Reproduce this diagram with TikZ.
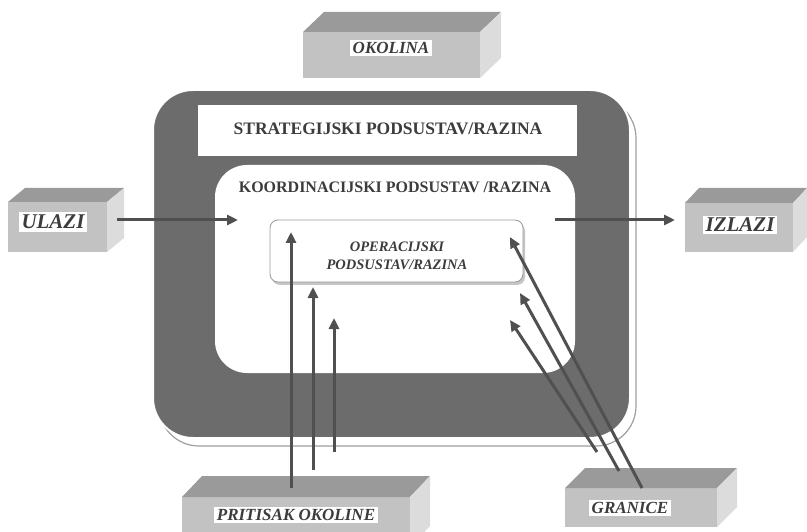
\documentclass[tikz,border=0pt]{standalone}
\usepackage{fontspec}
\setmainfont{Liberation Serif}
\usetikzlibrary{arrows.meta}
\definecolor{framec}{HTML}{6C6C6C}
\definecolor{arrowc}{HTML}{505050}
\definecolor{txtc}{HTML}{3C3C3C}
\definecolor{frontc}{HTML}{C2C2C2}
\definecolor{topc}{HTML}{9A9A9A}
\definecolor{sidec}{HTML}{DCDCDC}
\tikzset{
  frontface/.style={fill=frontc, draw=none, inner sep=0pt, outer sep=0pt},
  topface/.style={fill=topc},
  sideface/.style={fill=sidec},
  tag/.style={fill=white, text=txtc, inner sep=2.5pt, font=\bfseries\itshape},
  arr/.style={draw=arrowc, line width=3pt, -{Triangle[length=11pt,width=10pt]}},
  plain/.style={text=txtc, font=\bfseries}
}
% #1 name, #2 x, #3 y, #4 w, #5 h, #6 dx, #7 dy
\newcommand\myblock[7]{%
  \node[frontface, anchor=north west, minimum width=#4pt, minimum height=#5pt] (#1) at (#2,#3) {};
  \fill[topface] (#1.north west) -- ++(#6,-#7) -- ++(#4,0) -- (#1.north east) -- cycle;
  \fill[sideface] (#1.north east) -- ++(#6,-#7) -- ++(0,#5) -- (#1.south east) -- cycle;
}
\begin{document}
\begin{tikzpicture}[x=1pt,y=-1pt]
\useasboundingbox (0,0) rectangle (807,532);
% outer frame with shadow
\draw[gray!75, line width=1.2pt, fill=white, rounded corners=40pt] (159,98) rectangle (636,446);
\draw[white, line width=2pt, fill=framec, rounded corners=40pt] (153,90) rectangle (630,438);
\node[fill=white, anchor=north west, minimum width=379pt, minimum height=51pt, inner sep=0pt] (strat) at (198,105) {};
\node[plain, font=\bfseries\fontsize{17.5}{20}\selectfont] (strattxt) at (388,129) {STRATEGIJSKI PODSUSTAV/RAZINA};
\fill[white, rounded corners=32pt] (215,165) rectangle (575,373);
\node[plain, font=\bfseries\fontsize{16}{19}\selectfont] (koord) at (395,187) {KOORDINACIJSKI PODSUSTAV /RAZINA};
% operational box
\fill[gray!45, rounded corners=8pt] (272,223) rectangle (525,285);
\draw[gray!80, line width=0.8pt, fill=white, rounded corners=8pt] (270,220) rectangle (523,282);
\node[plain, font=\bfseries\itshape\fontsize{14.5}{18}\selectfont, align=center] (oper) at (397,256) {OPERACIJSKI\\PODSUSTAV/RAZINA};
% blocks
\myblock{okolina}{303}{32}{177}{46}{21}{20}
\node[tag, font=\bfseries\itshape\fontsize{17}{18}\selectfont] (okolinat) at (391,48) {OKOLINA};
\myblock{ulazi}{8}{202}{99}{50}{17}{14}
\node[tag, font=\bfseries\itshape\fontsize{21}{22}\selectfont] (ulazit) at (53,222) {ULAZI};
\myblock{izlazi}{685}{203}{108}{49}{14}{15}
\node[tag, font=\bfseries\itshape\fontsize{21}{22}\selectfont] (izlazit) at (740,225) {IZLAZI};
\myblock{pritisak}{182}{497}{228}{50}{20}{21}
\node[tag, font=\bfseries\itshape\fontsize{17}{18}\selectfont] (pritisakt) at (296,515) {PRITISAK OKOLINE};
\myblock{granice}{565}{488}{152}{39}{20}{20}
\node[tag, font=\bfseries\itshape\fontsize{17}{18}\selectfont] (granicet) at (630,508) {GRANICE};
% arrow end points
\coordinate (inend) at (238,220);
\coordinate (outstart) at (555,220);
\coordinate (outend) at (675,220);
\coordinate (v1s) at (291,488); \coordinate (v1e) at (291,232);
\coordinate (v2s) at (313,470); \coordinate (v2e) at (313,287);
\coordinate (v3s) at (334,452); \coordinate (v3e) at (334,318);
\coordinate (d1s) at (642,488); \coordinate (d1e) at (510,237);
\coordinate (d2s) at (619,471); \coordinate (d2e) at (520,293);
\coordinate (d3s) at (597,452); \coordinate (d3e) at (510,320);
\draw[arr] (ulazi.east) ++(10,-7) -- (inend);
\draw[arr] (outstart) -- (outend);
\draw[arr] (v1s) -- (v1e);
\draw[arr] (v2s) -- (v2e);
\draw[arr] (v3s) -- (v3e);
\draw[arr] (d1s) -- (d1e);
\draw[arr] (d2s) -- (d2e);
\draw[arr] (d3s) -- (d3e);
\end{tikzpicture}
\end{document}
